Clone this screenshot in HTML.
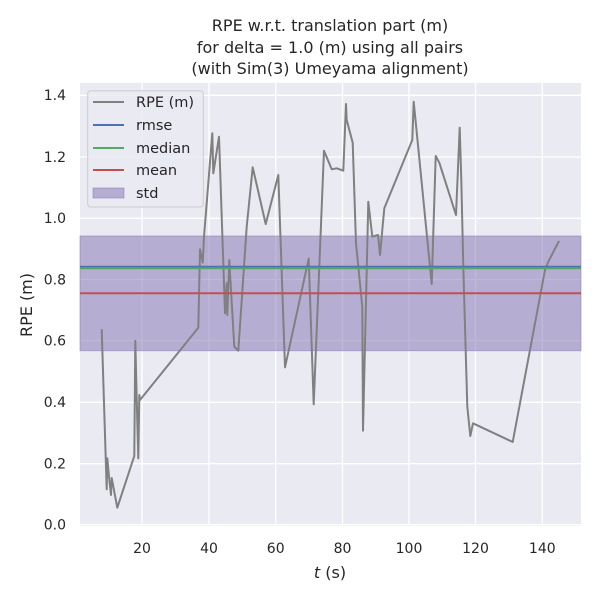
<!DOCTYPE html>
<html><head><meta charset="utf-8"><style>body{margin:0;background:#fff}svg{display:block}text{font-family:"DejaVu Sans","Liberation Sans",sans-serif;fill:#262626}</style></head><body>
<svg width="600" height="600" viewBox="0 0 600 600" xmlns="http://www.w3.org/2000/svg">
<rect x="80" y="83" width="501" height="443" fill="#eaeaf2"/>
<g stroke="#fff" stroke-width="1.3">
<line x1="142" y1="83" x2="142" y2="526"/><line x1="209" y1="83" x2="209" y2="526"/><line x1="275.7" y1="83" x2="275.7" y2="526"/><line x1="342.5" y1="83" x2="342.5" y2="526"/><line x1="409" y1="83" x2="409" y2="526"/><line x1="475.5" y1="83" x2="475.5" y2="526"/><line x1="542.3" y1="83" x2="542.3" y2="526"/>
<line x1="80" y1="95.3" x2="581" y2="95.3"/><line x1="80" y1="157" x2="581" y2="157"/><line x1="80" y1="218.3" x2="581" y2="218.3"/><line x1="80" y1="279.5" x2="581" y2="279.5"/><line x1="80" y1="340.5" x2="581" y2="340.5"/><line x1="80" y1="402.3" x2="581" y2="402.3"/><line x1="80" y1="463.7" x2="581" y2="463.7"/><line x1="80" y1="524.7" x2="581" y2="524.7"/>
</g>
<rect x="80" y="236" width="501" height="114.7" fill="#8172b2" fill-opacity="0.5" stroke="#8172b2" stroke-opacity="0.5"/>
<polyline fill="none" stroke="#808080" stroke-width="2" stroke-linejoin="round" points="101.7,329.3 106.7,489.3 107.3,458.3 109,476.7 111,495 111.7,478 117.3,507.7 134.3,456 135.3,340.7 136.7,398.3 138.3,458.3 139.3,395 140,400 198.3,327.7 200,249.3 202.7,262.7 204,236.7 212.3,133.3 213.3,173.3 219,136.7 225,313.3 226.7,283.3 227.3,315 229.3,260 230,273 234.3,346.7 238.3,350.7 246.7,226.7 252.7,167.3 265.7,224 278.3,175 285,367.3 308.7,258.7 313.7,404.3 324,150.7 331.7,169.3 336.7,168.3 343.3,170.7 346,104 346.7,120 352.7,142.7 356,243.3 362.3,306.7 363,430.7 368.3,201.7 372.3,236.7 378,235 380,255 384.3,208.3 412.3,140 413.7,101.7 431.7,284 435.7,156 439.3,162.7 456,215 459.7,127.7 461.3,180 463.3,266.7 467.3,406.7 470.3,436 473,423.3 512.7,442 545,270 548.3,261.7 559,241"/>
<line x1="80" y1="266.7" x2="581" y2="266.7" stroke="#4c72b0" stroke-width="2"/>
<line x1="80" y1="268.3" x2="581" y2="268.3" stroke="#55a868" stroke-width="2"/>
<line x1="80" y1="293.3" x2="581" y2="293.3" stroke="#c44e52" stroke-width="2"/>
<rect x="87.7" y="90.7" width="115.6" height="116.3" rx="3" fill="#eaeaf2" fill-opacity="0.8" stroke="#cccccc"/>
<line x1="93" y1="102" x2="124" y2="102" stroke="#808080" stroke-width="2"/>
<line x1="93" y1="125" x2="124" y2="125" stroke="#4c72b0" stroke-width="2"/>
<line x1="93" y1="148" x2="124" y2="148" stroke="#55a868" stroke-width="2"/>
<line x1="93" y1="170" x2="124" y2="170" stroke="#c44e52" stroke-width="2"/>
<rect x="93" y="188" width="31" height="10" fill="#8172b2" fill-opacity="0.5" stroke="#8172b2" stroke-opacity="0.5"/>
<g font-size="14.5">
<text x="136" y="107">RPE (m)</text><text x="136" y="130">rmse</text><text x="136" y="153">median</text><text x="136" y="175">mean</text><text x="136" y="198">std</text>
</g>
<g font-size="14" text-anchor="end">
<text x="66" y="100">1.4</text><text x="66" y="162">1.2</text><text x="66" y="223">1.0</text><text x="66" y="284.5">0.8</text><text x="66" y="345.5">0.6</text><text x="66" y="407">0.4</text><text x="66" y="468.5">0.2</text><text x="66" y="529.5">0.0</text>
</g>
<g font-size="14" text-anchor="middle">
<text x="142" y="553">20</text><text x="209" y="553">40</text><text x="275.7" y="553">60</text><text x="342.5" y="553">80</text><text x="409" y="553">100</text><text x="475.5" y="553">120</text><text x="542.3" y="553">140</text>
</g>
<text x="330" y="578" font-size="16" text-anchor="middle"><tspan font-style="italic">t</tspan> (s)</text>
<text transform="translate(32,305) rotate(-90)" font-size="16" text-anchor="middle">RPE (m)</text>
<g font-size="16" text-anchor="middle">
<text x="330" y="31">RPE w.r.t. translation part (m)</text>
<text x="330" y="53">for delta = 1.0 (m) using all pairs</text>
<text x="330" y="74">(with Sim(3) Umeyama alignment)</text>
</g>
</svg>
</body></html>
